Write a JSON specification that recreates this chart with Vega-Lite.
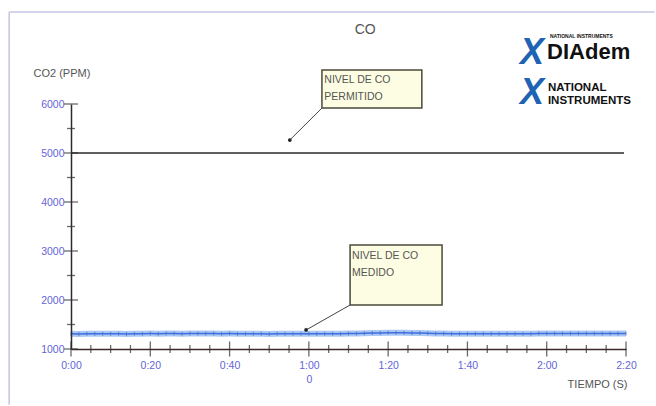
{
  "$schema": "https://vega.github.io/schema/vega-lite/v6.json",
  "width": 555,
  "height": 245,
  "autosize": {"type": "none"},
  "padding": {"left": 71, "top": 104, "right": 30, "bottom": 57},
  "background": "#ffffff",
  "config": {
    "view": {"stroke": null},
    "font": "Liberation Sans"
  },
  "datasets": {
    "marco": [
      {"x1": -15.6, "x2": 147.2, "y1": 7878, "y2": 7878},
      {"x1": -15.6, "x2": -15.6, "y1": 7878, "y2": -140}
    ],
    "medido": [
      {"t": 0, "co2": 1310}, {"t": 2, "co2": 1308}, {"t": 4, "co2": 1310}, {"t": 6, "co2": 1312},
      {"t": 8, "co2": 1309}, {"t": 10, "co2": 1310}, {"t": 12, "co2": 1311}, {"t": 14, "co2": 1308},
      {"t": 16, "co2": 1310}, {"t": 18, "co2": 1312}, {"t": 20, "co2": 1314}, {"t": 22, "co2": 1313},
      {"t": 24, "co2": 1315}, {"t": 26, "co2": 1314}, {"t": 28, "co2": 1312}, {"t": 30, "co2": 1315},
      {"t": 32, "co2": 1316}, {"t": 34, "co2": 1314}, {"t": 36, "co2": 1315}, {"t": 38, "co2": 1313},
      {"t": 40, "co2": 1314}, {"t": 42, "co2": 1312}, {"t": 44, "co2": 1310}, {"t": 46, "co2": 1309},
      {"t": 48, "co2": 1310}, {"t": 50, "co2": 1308}, {"t": 52, "co2": 1310}, {"t": 54, "co2": 1309},
      {"t": 56, "co2": 1311}, {"t": 58, "co2": 1310}, {"t": 60, "co2": 1310}, {"t": 62, "co2": 1309},
      {"t": 64, "co2": 1311}, {"t": 66, "co2": 1310}, {"t": 68, "co2": 1312}, {"t": 70, "co2": 1314},
      {"t": 72, "co2": 1316}, {"t": 74, "co2": 1320}, {"t": 76, "co2": 1325}, {"t": 78, "co2": 1328},
      {"t": 80, "co2": 1330}, {"t": 82, "co2": 1331}, {"t": 84, "co2": 1330}, {"t": 86, "co2": 1328},
      {"t": 88, "co2": 1326}, {"t": 90, "co2": 1322}, {"t": 92, "co2": 1318}, {"t": 94, "co2": 1315},
      {"t": 96, "co2": 1313}, {"t": 98, "co2": 1312}, {"t": 100, "co2": 1311}, {"t": 102, "co2": 1310},
      {"t": 104, "co2": 1311}, {"t": 106, "co2": 1310}, {"t": 108, "co2": 1309}, {"t": 110, "co2": 1310},
      {"t": 112, "co2": 1311}, {"t": 114, "co2": 1312}, {"t": 116, "co2": 1313}, {"t": 118, "co2": 1314},
      {"t": 120, "co2": 1315}, {"t": 122, "co2": 1316}, {"t": 124, "co2": 1315}, {"t": 126, "co2": 1316},
      {"t": 128, "co2": 1317}, {"t": 130, "co2": 1316}, {"t": 132, "co2": 1315}, {"t": 134, "co2": 1316},
      {"t": 136, "co2": 1317}, {"t": 138, "co2": 1316}, {"t": 140, "co2": 1315}
    ],
    "permitido": [
      {"t": 0, "co2": 5000}, {"t": 139.5, "co2": 5000}
    ],
    "xticks": [
      {"t": 0, "major": true}, {"t": 5, "major": false}, {"t": 10, "major": false}, {"t": 15, "major": false},
      {"t": 20, "major": true}, {"t": 25, "major": false}, {"t": 30, "major": false}, {"t": 35, "major": false},
      {"t": 40, "major": true}, {"t": 45, "major": false}, {"t": 50, "major": false}, {"t": 55, "major": false},
      {"t": 60, "major": true}, {"t": 65, "major": false}, {"t": 70, "major": false}, {"t": 75, "major": false},
      {"t": 80, "major": true}, {"t": 85, "major": false}, {"t": 90, "major": false}, {"t": 95, "major": false},
      {"t": 100, "major": true}, {"t": 105, "major": false}, {"t": 110, "major": false}, {"t": 115, "major": false},
      {"t": 120, "major": true}, {"t": 125, "major": false}, {"t": 130, "major": false}, {"t": 135, "major": false},
      {"t": 140, "major": true}
    ],
    "yticks": [
      {"v": 1000, "major": true}, {"v": 1500, "major": false}, {"v": 2000, "major": true}, {"v": 2500, "major": false},
      {"v": 3000, "major": true}, {"v": 3500, "major": false}, {"v": 4000, "major": true}, {"v": 4500, "major": false},
      {"v": 5000, "major": true}, {"v": 5500, "major": false}, {"v": 6000, "major": true}
    ],
    "boxes": [
      {"x1": 63.3, "x2": 88.5, "y1": 5918, "y2": 6694, "ax": 63.3, "ay": 5918, "bx": 55.2, "by": 5265, "tx": 63.9, "ty": 6600, "label": ["NIVEL DE CO", "PERMITIDO"]},
      {"x1": 70.4, "x2": 93.6, "y1": 1898, "y2": 3122, "ax": 70.4, "ay": 1898, "bx": 59.3, "by": 1388, "tx": 70.9, "ty": 3010, "label": ["NIVEL DE CO", "MEDIDO"]}
    ],
    "logo": [
      {"x": 120.8, "y": 7388, "text": "NATIONAL INSTRUMENTS", "kind": "tiny"},
      {"x": 120.1, "y": 7061, "text": "DIAdem", "kind": "big"},
      {"x": 120.3, "y": 6330, "text": "NATIONAL", "kind": "mid"},
      {"x": 120.3, "y": 6061, "text": "INSTRUMENTS", "kind": "mid"}
    ],
    "icons": [
      {"x": 116.3, "y": 7041}, {"x": 116.3, "y": 6224}
    ],
    "titulo": [
      {"x": 74.2, "y": 7510, "text": "CO"}
    ]
  },
  "layer": [
    {
      "data": {"name": "marco"},
      "mark": {"type": "rule", "color": "#c4c4e2", "strokeWidth": 1.5, "clip": false},
      "encoding": {
        "x": {"field": "x1", "type": "quantitative"},
        "x2": {"field": "x2"},
        "y": {"field": "y1", "type": "quantitative"},
        "y2": {"field": "y2"}
      }
    },
    {
      "data": {"name": "permitido"},
      "mark": {"type": "line", "color": "#2b2b2b", "strokeWidth": 1.6},
      "encoding": {
        "x": {
          "field": "t", "type": "quantitative",
          "scale": {"domain": [0, 140], "nice": false, "zero": false},
          "axis": {
            "zindex": 1,
            "values": [0, 20, 40, 60, 80, 100, 120, 140],
            "ticks": false,
            "grid": false,
            "domainColor": "#3a2a2a",
            "domainWidth": 1.5,
            "labelColor": "#6464d8",
            "labelFontSize": 10.5,
            "labelPadding": 11,
            "labelBaseline": "top",
            "labelLineHeight": 14,
            "labelFlush": false,
            "labelExpr": "datum.value == 60 ? ['1:00', '0'] : floor(datum.value / 60) + ':' + (datum.value % 60 < 10 ? '0' : '') + (datum.value % 60)",
            "title": "TIEMPO (S)",
            "titleColor": "#555555",
            "titleFontSize": 11,
            "titleFontWeight": "normal",
            "titleAnchor": "end",
            "titleAlign": "right",
            "titleX": 556,
            "titleY": 35,
            "titleBaseline": "middle"
          }
        },
        "y": {
          "field": "co2", "type": "quantitative",
          "scale": {"domain": [1000, 6000], "nice": false, "zero": false},
          "axis": {
            "zindex": 1,
            "values": [1000, 2000, 3000, 4000, 5000, 6000],
            "format": "d",
            "ticks": false,
            "grid": false,
            "domainColor": "#2b2b2b",
            "domainWidth": 1.5,
            "labelColor": "#6464d8",
            "labelFontSize": 10.5,
            "labelPadding": 7,
            "labelFlush": false,
            "title": "CO2 (PPM)",
            "titleColor": "#555555",
            "titleFontSize": 11,
            "titleFontWeight": "normal",
            "titleAngle": 0,
            "titleAlign": "left",
            "titleBaseline": "middle",
            "titleX": -38,
            "titleY": -31
          }
        }
      }
    },
    {
      "data": {"name": "medido"},
      "mark": {"type": "line", "color": "#a9c8f5", "strokeWidth": 6},
      "encoding": {
        "x": {"field": "t", "type": "quantitative"},
        "y": {"field": "co2", "type": "quantitative"}
      }
    },
    {
      "data": {"name": "medido"},
      "mark": {"type": "line", "color": "#3d6fe0", "strokeWidth": 1.5},
      "encoding": {
        "x": {"field": "t", "type": "quantitative"},
        "y": {"field": "co2", "type": "quantitative"}
      }
    },
    {
      "data": {"name": "medido"},
      "mark": {"type": "tick", "orient": "vertical", "color": "#5a6fb8", "thickness": 1, "size": 4, "opacity": 0.8},
      "encoding": {
        "x": {"field": "t", "type": "quantitative"},
        "y": {"field": "co2", "type": "quantitative"}
      }
    },
    {
      "data": {"name": "xticks"},
      "mark": {"type": "tick", "orient": "vertical", "color": "#2b2b2b", "thickness": 1.3},
      "encoding": {
        "x": {"field": "t", "type": "quantitative"},
        "y": {"datum": 1000, "type": "quantitative"},
        "size": {"condition": {"test": "datum.major", "value": 15}, "value": 8}
      }
    },
    {
      "data": {"name": "yticks"},
      "mark": {"type": "tick", "orient": "horizontal", "color": "#2b2b2b", "thickness": 1.3},
      "encoding": {
        "y": {"field": "v", "type": "quantitative"},
        "x": {"datum": 0, "type": "quantitative"},
        "size": {"condition": {"test": "datum.major", "value": 14}, "value": 8}
      }
    },
    {
      "data": {"name": "boxes"},
      "mark": {"type": "rule", "color": "#444444", "strokeWidth": 1},
      "encoding": {
        "x": {"field": "ax", "type": "quantitative"},
        "y": {"field": "ay", "type": "quantitative"},
        "x2": {"field": "bx"},
        "y2": {"field": "by"}
      }
    },
    {
      "data": {"name": "boxes"},
      "mark": {"type": "point", "shape": "circle", "filled": true, "color": "#222222", "size": 14, "opacity": 1},
      "encoding": {
        "x": {"field": "bx", "type": "quantitative"},
        "y": {"field": "by", "type": "quantitative"}
      }
    },
    {
      "data": {"name": "boxes"},
      "mark": {"type": "rect", "fill": "#fdfde3", "stroke": "#4a4a3a", "strokeWidth": 1.5, "clip": false},
      "encoding": {
        "x": {"field": "x1", "type": "quantitative"},
        "x2": {"field": "x2"},
        "y": {"field": "y1", "type": "quantitative"},
        "y2": {"field": "y2"}
      }
    },
    {
      "data": {"name": "boxes"},
      "mark": {"type": "text", "align": "left", "baseline": "top", "fontSize": 10.5, "lineHeight": 17, "color": "#555555"},
      "encoding": {
        "x": {"field": "tx", "type": "quantitative"},
        "y": {"field": "ty", "type": "quantitative"},
        "text": {"field": "label"}
      }
    },
    {
      "data": {"name": "titulo"},
      "mark": {"type": "text", "align": "center", "baseline": "middle", "fontSize": 14, "color": "#555555"},
      "encoding": {
        "x": {"field": "x", "type": "quantitative"},
        "y": {"field": "y", "type": "quantitative"},
        "text": {"field": "text"}
      }
    },
    {
      "data": {"name": "icons"},
      "mark": {"type": "text", "text": "X", "fontSize": 36, "fontWeight": "bold", "fontStyle": "italic", "color": "#1f63b5", "font": "Liberation Sans", "baseline": "middle", "align": "center"},
      "encoding": {
        "x": {"field": "x", "type": "quantitative"},
        "y": {"field": "y", "type": "quantitative"}
      }
    },
    {
      "data": {"name": "logo"},
      "mark": {"type": "text", "align": "left", "baseline": "middle", "font": "Liberation Sans", "fontWeight": "bold", "color": "#111111"},
      "encoding": {
        "x": {"field": "x", "type": "quantitative"},
        "y": {"field": "y", "type": "quantitative"},
        "text": {"field": "text"},
        "size": {"condition": [{"test": "datum.kind == 'tiny'", "value": 5}, {"test": "datum.kind == 'big'", "value": 22}], "value": 11.5}
      }
    }
  ]
}
